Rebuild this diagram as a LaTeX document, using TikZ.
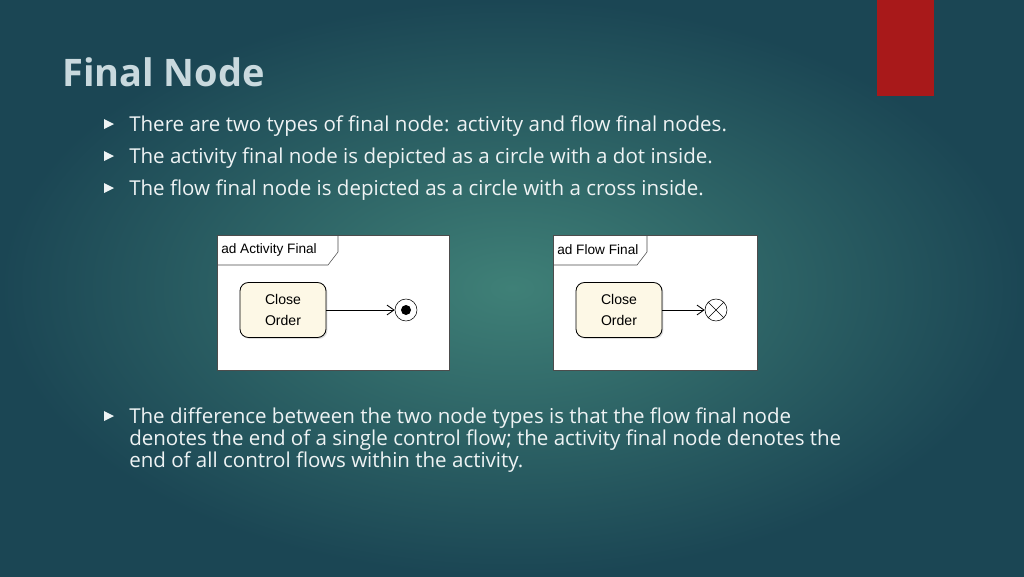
\documentclass[tikz,border=0pt]{standalone}
\usepackage{fontspec}
\setmainfont{Open Sans}
\newfontfamily\umlfont{Liberation Sans}
\usetikzlibrary{arrows.meta,positioning,shadows}
\definecolor{bgdark}{HTML}{1B4654}
\definecolor{bglight}{HTML}{3F8077}
\definecolor{titlecol}{HTML}{C9D9DE}
\definecolor{textcol}{HTML}{EEF3F4}
\definecolor{redbar}{HTML}{A8191A}
\definecolor{actfill}{HTML}{FDF8E6}
\begin{document}
\begin{tikzpicture}[
    x=0.25mm, y=-0.25mm,
    line/.style={anchor=west, text=textcol, font=\fontsize{14.6}{15.6}\selectfont, inner sep=0pt, align=left},
    frame/.style={draw=black!70, fill=white, line width=0.5pt},
    action/.style={draw=black, fill=actfill, rounded corners=6pt, line width=0.6pt,
        minimum width=86*0.25mm, minimum height=55*0.25mm, align=center,
        font=\umlfont\fontsize{10}{15}\selectfont, drop shadow={shadow xshift=1pt, shadow yshift=-1pt, fill=black!25}},
    flow/.style={-{Straight Barb[length=5pt,width=7pt]}, line width=0.6pt}
]
    % background
    \shade[inner color=bglight, outer color=bgdark] (0,0) rectangle (1024,576);
    \useasboundingbox (0,0) rectangle (1024,576);
    \fill[redbar] (877,0) rectangle (934,96);

    % title and bullets
    \node[anchor=west, text=titlecol, font=\bfseries\fontsize{27}{30}\selectfont, inner sep=0pt] (title) at (62,72) {Final Node};
    \foreach \y in {124, 156, 188, 416}
        \fill[textcol] (104,\y-5) -- (114,\y) -- (104,\y+5) -- cycle;
    \node[line] (t1) at (129,126) {There are two types of final node: activity and flow final nodes.};
    \node[line] (t2) at (129,158) {The activity final node is depicted as a circle with a dot inside.};
    \node[line] (t3) at (129,190) {The flow final node is depicted as a circle with a cross inside.};
    \node[line, anchor=north west, font=\fontsize{14.6}{15.6}\selectfont] (t4) at (129,408) {The difference between the two node types is that the flow final node\\denotes the end of a single control flow; the activity final node denotes the\\end of all control flows within the activity.};

    % activity final diagram
    \draw[frame] (217,235) rectangle (449,370);
    \draw[black!70] (217,265) -- (328,265) -- (338,252) -- (338,235);
    \node[anchor=west, font=\umlfont\fontsize{9.7}{10}\selectfont, inner sep=0pt] (lblA) at (221,250) {ad Activity Final};
    \node[action] (closeA) at (283,310) {Close\\Order};
    \node[draw=black, fill=white, circle, minimum size=22*0.25mm, inner sep=0pt] (endA) at (406,310) {};
    \fill (endA) circle (5*0.25mm);
    \draw[flow] (closeA) -- (endA);

    % flow final diagram
    \draw[frame] (553,235) rectangle (757,370);
    \draw[black!70] (553,265) -- (637,265) -- (647,252) -- (647,235);
    \node[anchor=west, font=\umlfont\fontsize{9.7}{10}\selectfont, inner sep=0pt] (lblF) at (557,250) {ad Flow Final};
    \node[action] (closeF) at (619,310) {Close\\Order};
    \node[draw=black, fill=white, circle, minimum size=22*0.25mm, inner sep=0pt] (endF) at (716,310) {};
    \draw (endF.north west) -- (endF.south east) (endF.north east) -- (endF.south west);
    \draw[flow] (closeF) -- (endF);
\end{tikzpicture}
\end{document}
